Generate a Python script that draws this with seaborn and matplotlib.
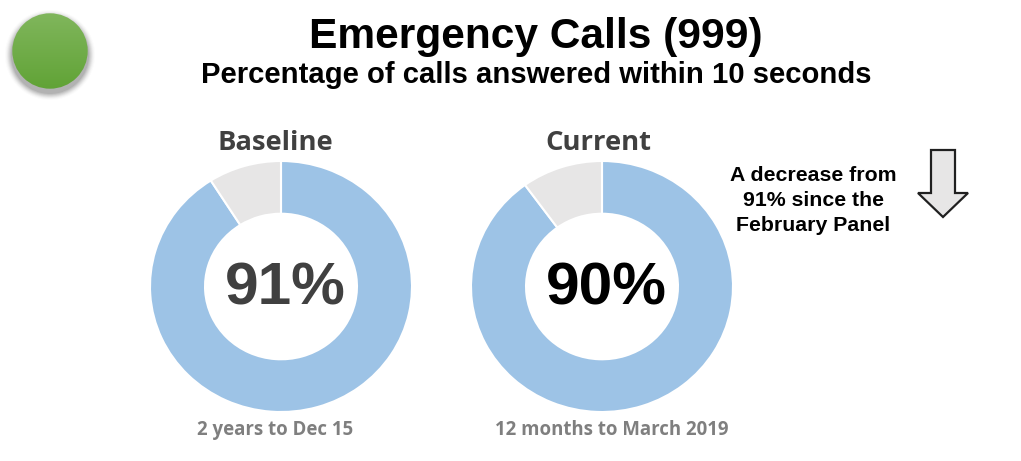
import matplotlib
matplotlib.use("Agg")
import matplotlib.pyplot as plt
from matplotlib.patches import Circle, Polygon
import numpy as np
import seaborn as sns

sns.set_theme(style="white")
plt.rcParams['font.family'] = ['Liberation Sans', 'DejaVu Sans']

titles = ["Baseline", "Current"]
answered = [91, 90]
missed = [9, 10]
centre_labels = ["91%", "90%"]
centre_colors = ["#404040", "#000000"]
periods = ["2 years to Dec 15", "12 months to March 2019"]
ring_colors = ["#9DC3E6", "#E7E6E6"]
W, H = 1021, 461
centres = [(281, 286.5), (602, 286.5)]
title_x = [275, 598]
period_x = [275, 612]
RX, RY = 131, 125.5

fig = plt.figure(figsize=(W/100, H/100), dpi=100, facecolor="white")
bg = fig.add_axes([0, 0, 1, 1])
bg.set_xlim(0, W); bg.set_ylim(H, 0); bg.axis("off")

for (cx, cy), tx, px, a, m, t, c, cc, p in zip(centres, title_x, period_x, answered, missed, titles, centre_labels, centre_colors, periods):
    ax = fig.add_axes([(cx-RX)/W, 1-(cy+RY)/H, 2*RX/W, 2*RY/H])
    ax.pie([a, m], colors=ring_colors, startangle=90, counterclock=False, radius=1,
           wedgeprops=dict(width=0.42, edgecolor="white", linewidth=1.5))
    ax.set_aspect("auto")
    ax.set_xlim(-1, 1); ax.set_ylim(-1, 1)
    ax.text(4/RX, -2.5/RY, c, ha="center", va="center", fontsize=43.5, fontweight="bold", color=cc)
    bg.text(tx, 143, t, ha="center", va="center", fontsize=19.7, fontweight="bold", color="#404040", family="Open Sans")
    bg.text(px, 430, p, ha="center", va="center", fontsize=13.4, fontweight="bold", color="#7F7F7F", family="Open Sans")

bg.text(536, 37, "Emergency Calls (999)", ha="center", va="center", fontsize=30.6, fontweight="bold", color="black")
bg.text(536, 75, "Percentage of calls answered within 10 seconds", ha="center", va="center", fontsize=21.1, fontweight="bold", color="black")
bg.text(813, 200.5, "A decrease from\n91% since the\nFebruary Panel", ha="center", va="center", fontsize=15.3, fontweight="bold", color="black", linespacing=1.42)

# soft drop shadow, then green button with vertical gradient
for r, al in zip([45, 44, 43, 42, 41, 40, 39], [0.02, 0.03, 0.05, 0.07, 0.08, 0.10, 0.12]):
    bg.add_patch(Circle((50, 55), r, facecolor="#404040", edgecolor="none", alpha=al))
grad = np.linspace(0, 1, 80).reshape(-1, 1)
cmap = matplotlib.colors.LinearSegmentedColormap.from_list("g", ["#80B65C", "#61A336"])
im = bg.imshow(grad, extent=(12, 88, 89, 13), cmap=cmap, aspect="auto", zorder=3)
im.set_clip_path(Circle((50, 51), 37.7, transform=bg.transData))
bg.set_xlim(0, W); bg.set_ylim(H, 0)

bg.add_patch(Polygon([(931, 150), (955, 150), (955, 193), (968, 193), (943, 217), (918, 193), (931, 193)],
                     closed=True, facecolor="#E7E6E6", edgecolor="#202020", linewidth=1.6, zorder=3))
fig.savefig("out.png", dpi=100)
